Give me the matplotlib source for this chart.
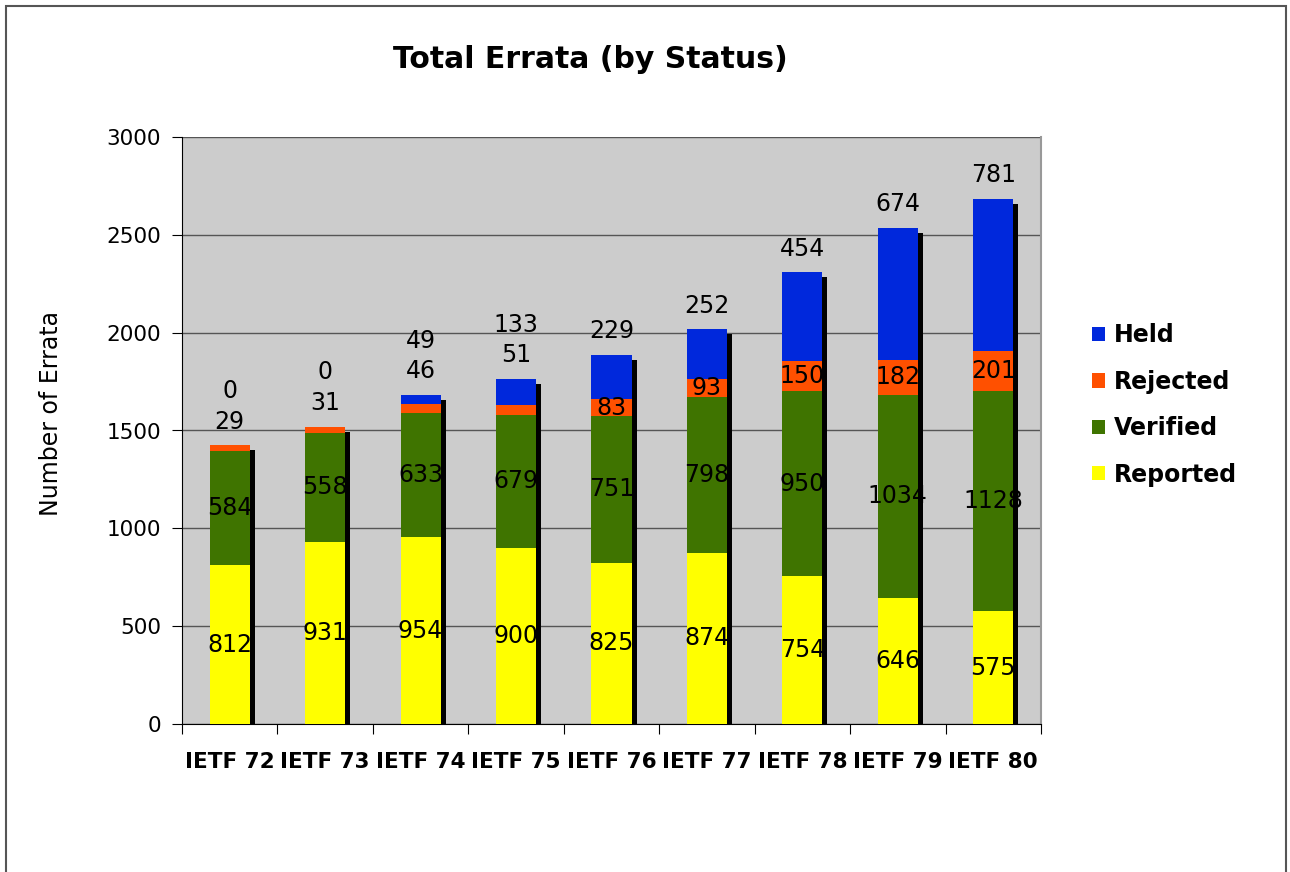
import matplotlib
matplotlib.use("Agg")
import matplotlib.pyplot as plt
import matplotlib.transforms as mtransforms
from matplotlib.patches import Rectangle, Patch
import numpy as np

categories = ["IETF 72", "IETF 73", "IETF 74", "IETF 75", "IETF 76",
              "IETF 77", "IETF 78", "IETF 79", "IETF 80"]
reported = [812, 931, 954, 900, 825, 874, 754, 646, 575]
verified = [584, 558, 633, 679, 751, 798, 950, 1034, 1128]
rejected = [29, 31, 46, 51, 83, 93, 150, 182, 201]
held = [0, 0, 49, 133, 229, 252, 454, 674, 781]
yticks = [0, 500, 1000, 1500, 2000, 2500, 3000]

colors = {"Reported": "#FFFF00", "Verified": "#3F7400",
          "Rejected": "#FF5000", "Held": "#0028DC"}

W, H, DPI = 1290, 872, 100
fig = plt.figure(figsize=(W / DPI, H / DPI), dpi=DPI)
fig.patch.set_facecolor("white")
fig.patches.append(Rectangle((6 / W, -0.05), (1286 - 6) / W, 1.05 - 6 / H,
                             transform=fig.transFigure, fill=False,
                             edgecolor="#555555", linewidth=1.5))

ax = fig.add_axes([182 / W, 1 - 724 / H, (1041 - 182) / W, (724 - 137) / H])
ax.set_facecolor("#CCCCCC")

x = np.arange(len(categories))
bw = 0.42
rep = np.array(reported); ver = np.array(verified)
rej = np.array(rejected); hel = np.array(held)
total = rep + ver + rej + hel

shadow_tr = ax.transData + mtransforms.ScaledTranslation(5 / DPI, -5 / DPI, fig.dpi_scale_trans)
ax.bar(x, total, bw, color="black", transform=shadow_tr, zorder=2)

b1 = rep
b2 = rep + ver
b3 = rep + ver + rej
ax.bar(x, rep, bw, color=colors["Reported"], zorder=3)
ax.bar(x, ver, bw, bottom=b1, color=colors["Verified"], zorder=3)
ax.bar(x, rej, bw, bottom=b2, color=colors["Rejected"], zorder=3)
ax.bar(x, hel, bw, bottom=b3, color=colors["Held"], zorder=3)

fs = 17
for i in range(len(x)):
    ax.text(x[i], rep[i] / 2, str(rep[i]), ha="center", va="center", fontsize=fs, zorder=5)
    ax.text(x[i], b1[i] + ver[i] / 2, str(ver[i]), ha="center", va="center", fontsize=fs, zorder=5)
    if i < 4:
        ax.annotate(str(rej[i]), (x[i], total[i]), xytext=(0, 17), textcoords="offset points",
                    ha="center", va="center", fontsize=fs, zorder=5)
        ax.annotate(str(hel[i]), (x[i], total[i]), xytext=(0, 39), textcoords="offset points",
                    ha="center", va="center", fontsize=fs, zorder=5)
    else:
        ax.text(x[i], b2[i] + rej[i] / 2, str(rej[i]), ha="center", va="center", fontsize=fs, zorder=5)
        ax.annotate(str(hel[i]), (x[i], total[i]), xytext=(0, 17), textcoords="offset points",
                    ha="center", va="center", fontsize=fs, zorder=5)

ax.set_xlim(-0.5, len(x) - 0.5)
ax.set_ylim(0, 3000)
ax.set_yticks(yticks)
ax.set_yticklabels([str(v) for v in yticks], fontsize=15.5)
ax.set_xticks(np.arange(len(x) + 1) - 0.5)
ax.set_xticklabels([])
ax.set_xticks(x, minor=True)
ax.set_xticklabels(categories, minor=True, fontsize=15.5, fontweight="bold")
ax.tick_params(axis="x", which="major", length=7, direction="out", color="black")
ax.tick_params(axis="x", which="minor", length=0, pad=20)
ax.tick_params(axis="y", length=7, direction="out", color="black", pad=8)
ax.yaxis.grid(True, color="#555555", linewidth=1)
ax.set_axisbelow(True)
ax.spines["top"].set_visible(False)
ax.spines["right"].set_color("#999999")
ax.spines["right"].set_linewidth(1.5)
ax.spines["left"].set_color("black")
ax.spines["bottom"].set_color("black")

ax.set_ylabel("Number of Errata", fontsize=17)
ax.yaxis.set_label_coords((63 - 182) / (1041 - 182), (724 - 414) / (724 - 137))

fig.text(590 / W, 1 - 60 / H, "Total Errata (by Status)", ha="center", va="center",
         fontsize=21.5, fontweight="bold")

handles = [Patch(facecolor=colors[k]) for k in ["Held", "Rejected", "Verified", "Reported"]]
leg = fig.legend(handles, ["Held", "Rejected", "Verified", "Reported"],
                 loc="center left", bbox_to_anchor=(1071 / W, 1 - 405 / H),
                 frameon=False, prop={"size": 17, "weight": "bold"},
                 handlelength=0.55, handleheight=0.55, handletextpad=0.35,
                 labelspacing=0.95)

fig.savefig("out.png", dpi=DPI)
